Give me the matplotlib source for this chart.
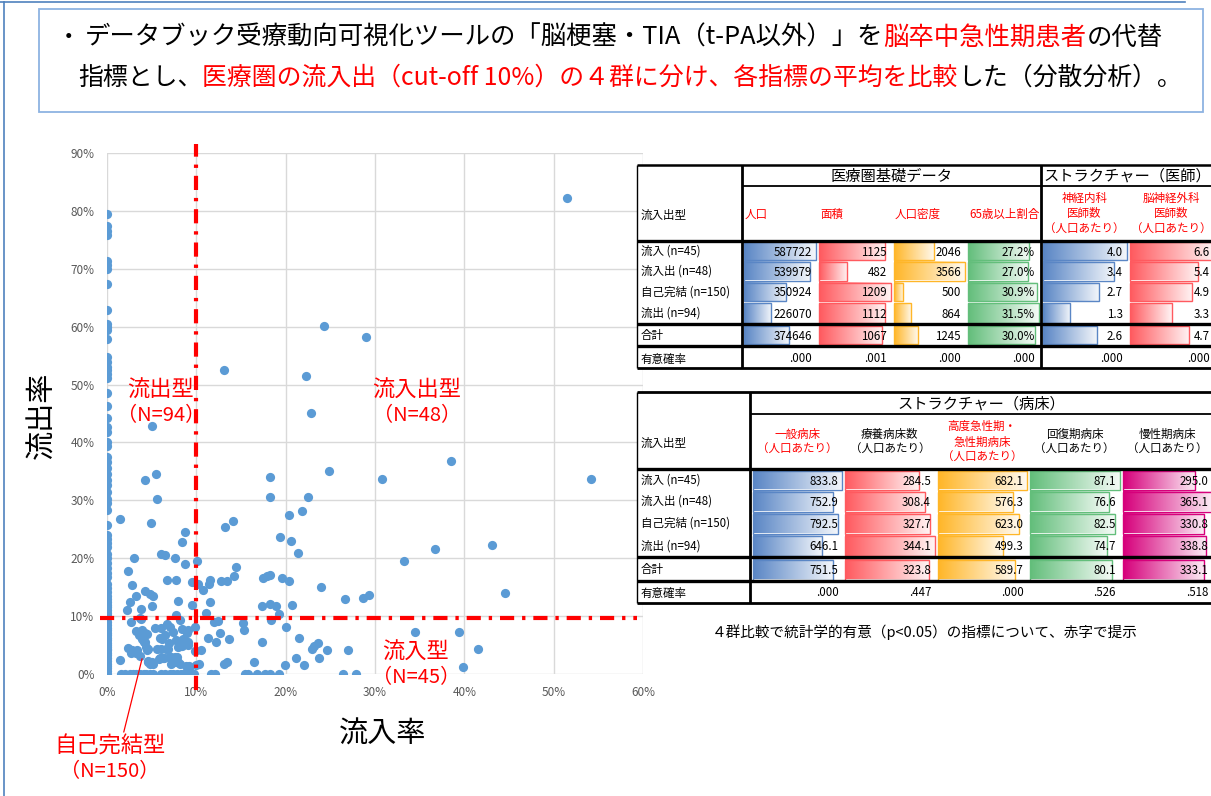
import numpy as np
import matplotlib
matplotlib.use("Agg")
import matplotlib.pyplot as plt
from matplotlib.patches import Rectangle
from matplotlib.ticker import PercentFormatter
from matplotlib.colors import to_rgb

plt.rcParams['font.family'] = ['Noto Sans CJK JP', 'DejaVu Sans']

# ---------------- data ----------------
# scatter: inflow rate (%) vs outflow rate (%) per medical area
inflow_pct = [
    # districts with no inflow
    0.0, 0.0, 0.0, 0.0, 0.0, 0.0, 0.0, 0.0, 0.0, 0.0, 0.0, 0.0, 0.0, 0.0, 0.0, 0.0, 0.0, 0.0, 0.0, 0.0,
    0.0, 0.0, 0.0, 0.0, 0.0, 0.0, 0.0, 0.0, 0.0, 0.0, 0.0, 0.0, 0.0, 0.0, 0.0, 0.0, 0.0, 0.0, 0.0, 0.0,
    0.0, 0.0, 0.0, 0.0, 0.0, 0.0, 0.0, 0.0, 0.0, 0.0, 0.0, 0.0, 0.0, 0.0, 0.0, 0.0, 0.0, 0.0, 0.0, 0.0,
    0.0, 0.0, 0.0, 0.0, 0.0, 0.0, 0.0, 0.0, 0.0, 0.0, 0.0, 0.0, 0.0, 0.0, 0.0, 0.0, 0.0, 0.0, 0.0, 0.0, 0.0,
    # outflow >= 10%
    51.5, 24.3, 29.0, 13.1, 22.3, 22.8, 5.0, 38.5, 24.9, 18.2, 30.8, 54.2, 4.3, 5.5, 5.6, 18.2, 22.5, 20.4,
    21.8, 1.5, 4.9, 14.1, 13.2, 8.7, 19.4, 8.4, 20.6, 43.1, 36.7, 21.4, 6.0, 6.5, 3.0, 7.6, 10.1, 33.2,
    8.7, 14.4, 2.3, 18.3, 14.2, 17.9, 17.5, 19.6, 6.7, 7.7, 11.5, 12.8, 13.4, 20.4, 9.5, 10.2, 11.4, 2.8,
    23.9, 10.7, 4.3, 44.6, 4.8, 29.3, 3.2, 5.2, 28.7, 26.6, 8.0, 2.6, 11.5, 18.2, 9.5, 20.7, 5.0, 17.4,
    18.9, 3.8, 2.2, 11.1, 19.2, 7.7,
    # outflow < 10%
    3.7, 3.8, 2.7, 8.2, 12.0, 12.4, 15.2, 18.4, 6.7, 9.9, 20.0, 6.0, 5.4, 7.1, 8.4, 9.1, 3.9, 15.3, 3.2,
    7.4, 9.0, 4.3, 12.7, 34.5, 39.4, 4.5, 3.6, 6.5, 11.3, 21.5, 5.9, 3.9, 6.2, 8.5, 13.7, 7.7, 4.3, 7.9,
    9.1, 4.1, 12.2, 17.4, 6.9, 8.2, 23.6, 9.1, 8.4, 23.2, 4.4, 8.0, 2.3, 6.6, 23.0, 4.6, 5.6, 6.1, 6.8,
    41.5, 3.4, 2.8, 4.5, 10.5, 24.6, 27.0, 9.9, 2.8, 3.3, 2.7, 3.7, 7.2, 7.6, 6.9, 7.8, 6.3, 21.2, 5.9,
    6.4, 23.7, 5.8, 1.5, 7.3, 4.6, 4.6, 5.0, 8.0, 7.7, 13.4, 16.4, 5.2, 13.1, 4.8, 7.2, 8.2, 10.3, 10.0,
    19.9, 22.0, 8.8, 9.2, 9.2, 39.8,
    # no outflow
    1.6, 2.0, 2.6, 2.9, 3.2, 3.7, 4.1, 4.4, 4.8, 5.2, 6.1, 6.5, 7.0, 7.4, 7.8, 8.3, 8.6, 8.9, 9.3, 9.7,
    11.6, 12.1, 15.4, 15.8, 16.8, 17.7, 18.2, 19.3, 26.4, 27.9,
]
outflow_pct = [
    79.4, 77.4, 76.6, 75.8, 71.4, 70.6, 70.0, 67.3, 62.9, 60.4, 59.9, 59.4, 57.9, 54.8, 53.9, 53.1, 52.5,
    51.9, 51.2, 48.5, 46.3, 44.3, 42.7, 41.8, 40.1, 39.3, 37.5, 36.6, 35.5, 34.6, 33.5, 32.6, 31.5, 30.3,
    29.5, 28.3, 25.7, 24.0, 23.4, 22.6, 22.0, 20.8, 20.0, 19.1, 18.3, 17.4, 16.8, 15.5, 14.8, 14.2, 13.4,
    13.0, 12.5, 12.0, 11.6, 11.1, 10.6, 10.2, 9.6, 9.0, 8.5, 8.0, 7.6, 7.1, 6.7, 6.3, 5.9, 5.3, 5.0, 4.7,
    4.4, 4.1, 3.6, 3.2, 2.7, 2.3, 1.8, 1.4, 1.0, 0.5, 0.0,
    82.2, 60.2, 58.3, 52.6, 51.5, 45.1, 42.9, 36.8, 35.1, 34.1, 33.7, 33.7, 33.5, 34.6, 30.2, 30.6, 30.6,
    27.5, 28.2, 26.8, 26.1, 26.4, 25.4, 24.5, 23.7, 22.8, 23.0, 22.3, 21.6, 20.9, 20.8, 20.5, 20.0, 20.0,
    19.6, 19.5, 19.0, 18.5, 17.8, 17.1, 16.9, 16.9, 16.6, 16.6, 16.2, 16.2, 16.2, 16.1, 16.1, 16.1, 15.9,
    15.5, 15.5, 15.3, 15.1, 14.5, 14.3, 14.0, 13.8, 13.6, 13.5, 13.5, 13.1, 13.0, 12.6, 12.4, 12.4, 12.1,
    11.9, 11.9, 11.7, 11.7, 11.7, 11.2, 11.1, 10.5, 10.4, 10.2,
    9.6, 9.5, 8.9, 9.3, 9.0, 9.2, 8.8, 9.4, 8.6, 8.1, 8.2, 8.0, 7.9, 8.1, 7.8, 7.6, 7.6, 7.6, 7.4, 7.3,
    7.0, 7.0, 7.1, 7.2, 7.2, 6.9, 6.7, 6.7, 6.2, 6.2, 6.3, 6.0, 6.0, 6.0, 6.0, 5.9, 5.6, 5.6, 5.6, 5.5,
    5.5, 5.5, 5.3, 5.3, 5.3, 5.0, 4.8, 4.8, 4.7, 4.6, 4.5, 4.4, 4.4, 4.3, 4.3, 4.3, 4.3, 4.3, 4.1, 4.1,
    4.1, 4.1, 4.1, 4.1, 4.0, 3.9, 3.6, 3.6, 3.1, 3.0, 3.0, 3.0, 2.9, 2.8, 2.8, 2.7, 2.7, 2.7, 2.6, 2.5,
    2.5, 2.3, 2.1, 2.1, 2.1, 2.1, 2.1, 2.0, 1.8, 1.8, 1.7, 1.7, 1.7, 1.7, 1.5, 1.5, 1.5, 1.3, 1.3, 1.1,
    1.2,
    0.0, 0.0, 0.0, 0.0, 0.0, 0.0, 0.0, 0.0, 0.0, 0.0, 0.0, 0.0, 0.0, 0.0, 0.0, 0.0, 0.0, 0.0, 0.0, 0.0,
    0.0, 0.0, 0.0, 0.0, 0.0, 0.0, 0.0, 0.0, 0.0, 0.0,
]
cutoff = 0.10
x_ticks = [0.0, 0.1, 0.2, 0.3, 0.4, 0.5, 0.6]
y_ticks = [0.0, 0.1, 0.2, 0.3, 0.4, 0.5, 0.6, 0.7, 0.8, 0.9]

# tables
group_labels = ['流入 (n=45)', '流入出 (n=48)', '自己完結 (n=150)', '流出 (n=94)', '合計']

t1_headers = ['人口', '面積', '人口密度', '65歳以上割合',
              '神経内科\n医師数\n（人口あたり）', '脳神経外科\n医師数\n（人口あたり）']
population = [587722, 539979, 350924, 226070, 374646]
area = [1125, 482, 1209, 1112, 1067]
density = [2046, 3566, 500, 864, 1245]
elderly_pct = [27.2, 27.0, 30.9, 31.5, 30.0]
neurologists = [4.0, 3.4, 2.7, 1.3, 2.6]
neurosurgeons = [6.6, 5.4, 4.9, 3.3, 4.7]
t1_pvalues = ['.000', '.001', '.000', '.000', '.000', '.000']
t1_significant = [True, True, True, True, True, True]

t2_headers = ['一般病床\n（人口あたり）', '療養病床数\n（人口あたり）',
              '高度急性期・\n急性期病床\n（人口あたり）', '回復期病床\n（人口あたり）',
              '慢性期病床\n（人口あたり）']
general_beds = [833.8, 752.9, 792.5, 646.1, 751.5]
longterm_beds = [284.5, 308.4, 327.7, 344.1, 323.8]
acute_beds = [682.1, 576.3, 623.0, 499.3, 589.7]
recovery_beds = [87.1, 76.6, 82.5, 74.7, 80.1]
chronic_beds = [295.0, 365.1, 330.8, 338.8, 333.1]
t2_pvalues = ['.000', '.447', '.000', '.526', '.518']
t2_significant = [True, False, True, False, False]

RED = '#ff0000'
BLUE_PT = '#5b9bd5'
BAR_BLUE = '#5a86c5'
BAR_RED = '#ff5a5f'
BAR_ORANGE = '#ffb628'
BAR_GREEN = '#63be7b'
BAR_MAGENTA = '#d6007b'
FS_TAB = 8.3

W, H = 1211, 796
fig = plt.figure(figsize=(W / 100, H / 100), dpi=100)
fig.patch.set_facecolor('white')

# ---------------- scatter ----------------
ax = fig.add_axes([107 / W, 1 - 674 / H, 536 / W, 521 / H])
ax.scatter(np.array(inflow_pct) / 100, np.array(outflow_pct) / 100,
           s=44, color=BLUE_PT, linewidths=0, zorder=3)
ax.set_xlim(0, 0.6)
ax.set_ylim(0, 0.9)
ax.set_xticks(x_ticks)
ax.set_yticks(y_ticks)
ax.xaxis.set_major_formatter(PercentFormatter(1.0, decimals=0))
ax.yaxis.set_major_formatter(PercentFormatter(1.0, decimals=0))
ax.tick_params(length=0, labelsize=8.5, colors='#595959', pad=9)
ax.grid(True, color='#d9d9d9', linewidth=1.0, zorder=0)
for sp in ax.spines.values():
    sp.set_visible(False)
ax.set_axisbelow(True)

dash = (0, (3.4, 1.9, 0.8, 1.9))
ax.plot([cutoff, cutoff], [-0.028, 0.915], color=RED, lw=3.0, linestyle=dash,
        clip_on=False, zorder=4)
ax.plot([-0.008, 0.593], [cutoff - 0.003, cutoff - 0.003], color=RED, lw=3.0,
        linestyle=dash, clip_on=False, zorder=4)
ax.annotate('', xy=(0.04, 0.031), xytext=(0.018, -0.105),
            arrowprops=dict(arrowstyle='-', color=RED, lw=0.9),
            annotation_clip=False, zorder=5)

# ---------------- overlay (pixel coordinates) ----------------
ov = fig.add_axes([0, 0, 1, 1], zorder=5)
ov.set_xlim(0, W)
ov.set_ylim(H, 0)
ov.axis('off')
ov.patch.set_alpha(0)

# slide frame & header box
ov.plot([0, 1185], [1.5, 1.5], color='#4f81bd', lw=1.2)
ov.plot([4, 4], [1.5, H], color='#4f81bd', lw=1.2)
ov.add_patch(Rectangle((39, 9), 1164, 103, facecolor='white',
                       edgecolor='#8db3e2', lw=1.3))

renderer = fig.canvas.get_renderer()


def draw_segments(x, y, segs, fs, right):
    total = 0
    for s, c in segs:
        t = ov.text(0, 0, s, fontsize=fs)
        total += t.get_window_extent(renderer).width
        t.remove()
    fs2 = fs * (right - x) / total
    cx = x
    for s, c in segs:
        t = ov.text(cx, y, s, fontsize=fs2, color=c, va='center', ha='left')
        cx += t.get_window_extent(renderer).width


ov.text(57, 38, '・', fontsize=17, va='center', ha='left')
draw_segments(85, 38, [('データブック受療動向可視化ツールの「脳梗塞・TIA（t-PA以外）」を', 'black'),
                       ('脳卒中急性期患者', RED), ('の代替', 'black')], 17, 1165)
draw_segments(78, 78, [('指標とし、', 'black'),
                       ('医療圏の流入出（cut-off 10%）の４群に分け、各指標の平均を比較', RED),
                       ('した（分散分析）。', 'black')], 17, 1182)

# axis titles
ov.text(42, 415, '流出率', fontsize=21, rotation=90, ha='center', va='center')
ov.text(383, 735, '流入率', fontsize=21, ha='center', va='center')

# quadrant labels
for cx, cy, name, n in [(161, 390, '流出型', '（N=94）'), (417, 390, '流入出型', '（N=48）'),
                        (416, 652, '流入型', '（N=45）'), (110, 746, '自己完結型', '（N=150）')]:
    ov.text(cx, cy, name, fontsize=16, color=RED, ha='center', va='center')
    ov.text(cx, cy + 26, n, fontsize=14.5, color=RED, ha='center', va='center')


def grad_bar(x0, y0, w, h, color):
    c = np.array(to_rgb(color))
    t = np.linspace(0, 0.93, 64)[:, None]
    img = (c[None, :] * (1 - t) + t)[None, :, :]
    ov.imshow(img, extent=(x0, x0 + w, y0 + h, y0), aspect='auto',
              interpolation='bilinear', zorder=6)
    ov.add_patch(Rectangle((x0, y0), w, h, fill=False, edgecolor=color, lw=1.0, zorder=7))


def hline(y, x0, x1, lw):
    ov.plot([x0, x1], [y, y], color='black', lw=lw, zorder=8, solid_capstyle='butt')


def vline(x, y0, y1, lw):
    ov.plot([x, x], [y0, y1], color='black', lw=lw, zorder=8, solid_capstyle='butt')


def draw_table(top, bottom, head_bottom, cols, rows, p_row, pvals,
               headers, sig, fmts, colors, group_titles, head_align, head_y, label_y):
    ov.add_patch(Rectangle((637, top), W - 637 + 5, bottom - top, facecolor='white',
                           edgecolor='none', zorder=5))
    for text, xc in group_titles:
        ov.text(xc, (top + head_bottom) / 2 + 1, text, fontsize=11, ha='center',
                va='center', zorder=9)
    ov.text(641, label_y, '流入出型', fontsize=FS_TAB, ha='left', va='center', zorder=9)
    for (x0, w), hdr, s, al in zip(cols, headers, sig, head_align):
        col = RED if s else 'black'
        if al == 'left':
            ov.text(x0 + 3, head_y, hdr, fontsize=FS_TAB, color=col, ha='left', va='center',
                    zorder=9, linespacing=1.25)
        else:
            ov.text(x0 + w / 2, head_y, hdr, fontsize=FS_TAB, color=col, ha='center',
                    va='center', zorder=9, linespacing=1.25, multialignment='center')
    for i, (y0, y1) in enumerate(rows):
        ov.text(641, (y0 + y1) / 2, group_labels[i], fontsize=FS_TAB, ha='left',
                va='center', zorder=9)
    for j, ((x0, w), vals, fmt, colr) in enumerate(zip(cols, fmts[0], fmts[1], colors)):
        vmax = max(vals)
        for i, (y0, y1) in enumerate(rows):
            bw = (w - 3) * vals[i] / vmax
            grad_bar(x0 + 1.5, y0 + 1, bw, y1 - y0 - 2, colr)
            ov.text(x0 + w - 5, (y0 + y1) / 2 + 1, fmt.format(vals[i]), fontsize=FS_TAB,
                    ha='right', va='center', zorder=9)
        ov.text(x0 + w - 5, (p_row[0] + p_row[1]) / 2 + 1, pvals[j], fontsize=FS_TAB,
                ha='right', va='center', zorder=9)
    ov.text(641, (p_row[0] + p_row[1]) / 2 + 2, '有意確率', fontsize=FS_TAB, ha='left',
            va='center', zorder=9)


# table 1
t1_cols = [(742, 75), (817, 75), (892, 74), (966, 74), (1041, 87), (1128, 87)]
t1_rows = [(241, 261), (261, 281.5), (281.5, 302), (302, 324), (325, 345)]
draw_table(165, 368, 186, t1_cols, t1_rows, (346, 368), t1_pvalues, t1_headers,
           t1_significant,
           ([population, area, density, elderly_pct, neurologists, neurosurgeons],
            ['{:d}', '{:d}', '{:d}', '{:.1f}%', '{:.1f}', '{:.1f}']),
           [BAR_BLUE, BAR_RED, BAR_ORANGE, BAR_GREEN, BAR_BLUE, BAR_RED],
           [('医療圏基礎データ', 891), ('ストラクチャー（医師）', 1127)],
           ['left', 'left', 'left', 'left', 'center', 'center'], 214, 215)
hline(165, 637, W, 1.8)
hline(186, 742, W, 1.3)
hline(241, 637, W, 2.4)
hline(324, 637, W, 2.4)
hline(345.5, 637, W, 2.4)
hline(368, 637, W, 2.0)
vline(637, 165, 368, 1.0)
vline(742, 165, 368, 2.0)
vline(1040.5, 165, 368, 2.0)

# table 2
t2_cols = [(751, 92.5), (843.5, 92.5), (936, 92.5), (1028.5, 92.5), (1121, 92.5)]
t2_rows = [(470, 490.5), (490.5, 512.5), (512.5, 534.5), (534.5, 557), (558.5, 580.5)]
draw_table(391.5, 603, 414, t2_cols, t2_rows, (581, 603), t2_pvalues, t2_headers,
           t2_significant,
           ([general_beds, longterm_beds, acute_beds, recovery_beds, chronic_beds],
            ['{:.1f}'] * 5),
           [BAR_BLUE, BAR_RED, BAR_ORANGE, BAR_GREEN, BAR_MAGENTA],
           [('ストラクチャー（病床）', 981)],
           ['center'] * 5, 442, 443)
hline(391.5, 637, W, 2.0)
hline(414, 750, W, 1.3)
hline(469, 637, W, 2.4)
hline(557, 637, W, 2.4)
hline(581, 637, W, 2.4)
hline(603, 637, W, 2.0)
vline(637, 391.5, 603, 1.0)
vline(750, 391.5, 603, 2.0)

ov.text(925, 632, '４群比較で統計学的有意（p<0.05）の指標について、赤字で提示',
        fontsize=10.5, ha='center', va='center', zorder=9)

ov.set_xlim(0, W)
ov.set_ylim(H, 0)
fig.savefig('out.png', dpi=100, facecolor='white')
